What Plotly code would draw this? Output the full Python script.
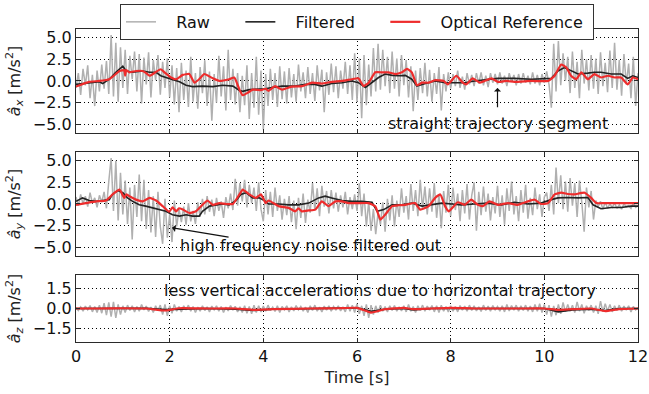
import numpy as np
import plotly.graph_objects as go
from plotly.subplots import make_subplots

# ---------------- data ----------------
raw_dt = 0.05
raw_ax = [
    -0.8, 0.9, -1.6, 1.4, -0.5, 1.8, -2.0, 0.7, -2.9, 1.2,
    -1.2, 1.9, -0.9, 2.3, -1.5, 5.3, -1.8, 4.4, -2.4, 3.9,
    -0.8, 3.6, -1.5, 2.9, 0.2, 3.4, -1.2, 3.1, -2.6, 2.7,
    -0.4, 3.3, -1.9, 2.4, 0.1, 3.0, -1.6, 2.2, -0.8, 2.6,
    -1.9, 1.8, -2.7, 1.5, -3.6, 2.1, -2.2, 1.2, -3.0, 2.8,
    -2.4, 0.9, -3.2, 1.6, -1.4, 2.4, -2.9, 1.1, -4.6, 0.8,
    -2.5, 2.9, -1.8, 1.7, -3.4, 3.6, -2.2, 1.4, -2.7, 0.9,
    -3.6, 0.6, -2.8, 1.8, -4.4, 0.9, -3.1, 2.8, -3.9, 1.2,
    -5.6, 0.8, -2.9, 1.4, -2.2, 0.9, -3.0, 1.7, -2.1, 1.1,
    -2.6, 1.5, -1.9, 0.8, -2.4, 1.9, -1.2, 1.0, -2.0, 1.6,
    -1.5, 0.9, -2.3, 1.8, -1.1, 1.3, -3.6, 1.0, -1.6, 2.0,
    -1.3, 1.7, -2.0, 1.2, -0.9, 2.2, -1.5, 1.8, -2.2, 3.2,
    -2.4, 2.6, -4.3, 3.0, -2.8, 1.9, -1.8, 3.8, -1.2, 4.3,
    -1.0, 3.6, -0.6, 2.8, -1.4, 3.4, -0.9, 2.6, -1.8, 3.0,
    -0.5, 2.4, -1.9, 1.7, -3.5, 1.2, -2.2, 1.5, -1.4, 2.1,
    -1.8, 1.3, -2.4, 0.9, -1.5, 1.6, -3.4, 0.8, -1.2, 1.0,
    -0.9, 0.8, -0.6, 1.2, -0.8, 0.5, -1.0, 0.9, -0.4, 0.7,
    -0.6, 0.9, -0.3, 1.0, -0.5, 0.6, -0.7, 0.9, -0.2, 0.8,
    -0.4, 1.0, -0.3, 0.6, -0.6, 0.9, -0.1, 0.7, -0.5, 0.8,
    -0.3, 0.9, -0.2, 0.6, -0.4, 1.0, -0.3, 0.7, -0.5, 0.8,
    -0.2, 1.1, -0.4, -3.1, 4.3, -1.2, 4.6, -0.5, 3.2, 0.0,
    2.8, -1.4, 3.4, -0.8, 2.2, -2.0, 3.6, -0.3, 2.5, -1.1,
    3.0, -0.9, 2.6, -1.5, 3.3, -0.6, 2.1, -1.3, 3.5, -0.8,
    4.4, -1.0, 2.4, -1.7, 3.1, -0.4, 2.0, -2.0, 2.8, -2.9,
    0.9,
]
raw_ay = [
    0.8, -0.2, 1.1, 0.0, 0.9, -0.3, 1.3, 0.1, 0.7, -0.4,
    1.0, 0.2, 1.4, -0.5, 2.6, 5.3, -0.8, 5.0, -1.9, 3.6,
    -1.2, 2.7, -2.3, 1.9, -4.1, 2.2, -1.5, 3.4, -2.0, 2.8,
    -2.9, 1.6, -3.3, 0.9, -3.8, 1.4, -2.6, -4.6, 0.6, -3.9,
    -1.2, -4.4, 0.4, -2.6, -0.6, -2.1, -0.3, -2.4, 0.1, -2.0,
    -0.8, -2.3, 0.2, -1.5, 0.6, -1.2, 0.9, -0.9, 0.5, -1.4,
    0.7, -0.8, 0.3, -1.6, 0.8, -0.5, 1.2, -0.7, 2.9, -0.2,
    2.4, 0.3, 2.8, -0.4, 2.2, 0.1, 1.9, -0.8, 2.5, -0.6,
    -2.0, 1.6, -1.2, 1.4, -1.5, 1.9, -0.8, 1.0, -1.8, 0.6,
    -1.3, 0.9, -2.1, 0.4, -2.9, 0.7, -1.6, 1.2, -2.2, 0.5,
    -1.0, 2.4, -0.7, 1.8, -1.4, 2.1, -0.3, 1.5, -1.1, 1.6,
    -0.5, 1.3, -0.9, 1.0, -0.4, 1.4, -1.2, 0.8, -0.6, 1.1,
    -0.8, 2.4, -1.4, 1.2, -2.6, 0.3, -3.1, -0.6, -3.5, -1.0,
    -2.4, 0.2, -3.2, 0.6, -1.9, 1.0, -2.6, 0.4, -1.5, 1.8,
    -1.0, 0.9, -1.8, 2.3, -0.8, 1.6, -1.4, 2.8, -0.6, 2.0,
    -1.2, 1.8, -0.9, 2.4, -1.6, 1.1, -2.8, 1.5, -1.0, 2.2,
    -1.4, 1.9, -0.7, 1.2, -2.0, 1.6, -1.1, 2.3, -1.8, 1.0,
    2.5, -3.1, 1.4, -1.3, 2.0, -0.9, 1.2, -1.9, 0.8, -1.1,
    2.1, -1.5, 1.0, -2.4, 1.8, -0.8, 2.6, -1.2, 0.9, -2.0,
    1.6, -1.0, 2.2, -1.7, 0.7, -1.3, 1.9, -0.6, 1.1, -1.5,
    0.8, 1.3, -0.8, 2.2, -1.2, 4.2, 0.1, 3.3, -0.6, 2.6,
    -0.9, 3.0, -0.2, 2.4, -1.5, 2.7, 0.2, -3.2, 1.9, -0.4,
    1.5, -1.8, 0.4, -0.3, 0.3, -0.6, 0.2, -0.5, 0.0, -0.4,
    0.1, -0.5, -0.1, -0.6, 0.0, -0.3, -0.2, -0.5, 0.1, -0.4,
    -0.2,
]
raw_az = [
    0.05, -0.15, 0.12, -0.2, 0.18, -0.1, 0.22, -0.25, 0.15, -0.3,
    0.25, -0.35, 0.4, -0.5, 0.45, -0.6, 0.5, -0.7, 0.3, -0.45,
    0.2, -0.3, 0.25, -0.15, 0.2, -0.25, 0.15, -0.2, 0.3, -0.1,
    0.18, -0.22, 0.1, -0.3, 0.2, -0.15, 0.25, -0.45, 0.3, -0.55,
    0.2, -0.35, 0.3, -0.2, 0.15, -0.25, 0.2, -0.1, 0.25, -0.2,
    0.15, -0.3, 0.1, -0.2, 0.2, -0.15, 0.12, -0.25, 0.18, -0.1,
    0.2, -0.2, 0.15, -0.3, 0.1, -0.18, 0.22, -0.12, 0.16, -0.25,
    0.12, -0.3, 0.2, -0.35, 0.15, -0.4, 0.25, -0.3, 0.2, -0.25,
    0.18, -0.2, 0.25, -0.15, 0.1, -0.22, 0.2, -0.3, 0.15, -0.1,
    0.2, -0.25, 0.12, -0.18, 0.22, -0.1, 0.15, -0.2, 0.1, -0.3,
    0.2, -0.15, 0.25, -0.2, 0.1, -0.25, 0.18, -0.12, 0.2, -0.2,
    0.15, -0.1, 0.2, -0.18, 0.12, -0.25, 0.3, -0.2, 0.25, -0.3,
    0.35, -0.4, 0.2, -0.55, 0.3, -0.7, 0.25, -0.45, 0.2, -0.3,
    0.25, -0.2, 0.15, -0.25, 0.2, -0.15, 0.22, -0.2, 0.12, -0.18,
    0.2, -0.25, 0.3, -0.2, 0.15, -0.3, 0.2, -0.15, 0.25, -0.2,
    0.18, -0.12, 0.22, -0.25, 0.2, -0.3, 0.25, -0.2, 0.15, -0.25,
    0.2, -0.2, 0.15, -0.25, 0.22, -0.12, 0.18, -0.2, 0.25, -0.15,
    0.2, -0.18, 0.12, -0.22, 0.25, -0.15, 0.18, -0.2, 0.22, -0.1,
    0.15, -0.2, 0.2, -0.25, 0.3, -0.18, 0.22, -0.12, 0.25, -0.2,
    0.2, -0.15, 0.25, -0.2, 0.18, -0.25, 0.3, -0.2, 0.35, -0.3,
    0.3, -0.45, 0.25, -0.6, 0.2, -0.5, 0.3, -0.4, 0.45, -0.25,
    0.3, -0.2, 0.25, -0.3, 0.5, -0.2, 0.3, -0.35, 0.2, -0.15,
    0.25, -0.3, 0.2, -0.4, 0.55, -0.25, 0.35, -0.2, 0.3, -0.25,
    0.2, -0.15, 0.25, -0.2, 0.18, -0.12, 0.2, -0.25, 0.15, -0.1,
    0.05,
]

filt_ax_t = [0, 0.28, 0.5, 0.57, 0.71, 0.85, 1.0, 1.07, 1.21, 1.42, 1.57, 1.71, 1.81, 1.92,
             2.06, 2.21, 2.35, 2.49, 2.7, 2.92, 3.13, 3.35, 3.49, 3.56, 3.7, 3.84, 4.05, 4.18,
             4.4, 4.68, 4.9, 5.1, 5.25, 5.46, 5.68, 5.89, 6.03, 6.18, 6.32, 6.46, 6.6, 6.75,
             6.89, 7.03, 7.17, 7.28, 7.46, 7.67, 7.88, 8.03, 8.3, 8.51, 8.72, 9.01, 9.36, 9.72,
             10.15, 10.29, 10.43, 10.57, 10.72, 10.93, 11.07, 11.21, 11.43, 11.64, 11.78, 11.89, 12.0]
filt_ax = [-0.4, -0.2, -0.1, -0.3, 0.2, 1.0, 1.7, 1.15, 1.0, 1.15, 1.0, 1.0, 0.6, 0.4,
           0.2, -0.1, -0.5, -0.65, -0.6, -0.65, -0.5, -0.6, -1.1, -1.2, -1.0, -0.95, -0.9, -0.75,
           -0.6, -0.6, -0.4, -0.4, -0.6, -0.3, -0.2, 0.0, -0.2, -0.75, -0.2, 0.4, 0.8, 0.65,
           0.6, 0.65, 0.2, -0.6, -0.3, 0.0, -0.2, -0.2, -0.2, 0.0, 0.1, 0.3, 0.3, 0.2,
           0.3, 1.15, 1.55, 1.15, 0.8, 0.9, 1.0, 1.0, 0.8, 0.8, 0.3, 0.6, 0.4]

ref_ax_t = [0, 0.28, 0.5, 0.71, 0.93, 1.03, 1.05, 1.07, 1.14, 1.28, 1.42, 1.5, 1.57, 1.71, 1.81,
            1.89, 2.03, 2.14, 2.28, 2.42, 2.53, 2.63, 2.74, 2.92, 3.06, 3.27, 3.38, 3.49, 3.56, 3.67,
            3.77, 3.95, 4.05, 4.11, 4.25, 4.4, 4.61, 4.83, 5.04, 5.25, 5.46, 5.68, 5.89, 6.03, 6.14,
            6.25, 6.39, 6.53, 6.67, 6.82, 6.96, 7.07, 7.17, 7.28, 7.39, 7.53, 7.67, 7.85, 7.94, 8.12,
            8.26, 8.33, 8.47, 8.62, 8.72, 8.87, 9.01, 9.19, 9.36, 9.72, 10.08, 10.22, 10.36, 10.47, 10.57,
            10.68, 10.79, 10.93, 11.07, 11.21, 11.36, 11.5, 11.64, 11.78, 11.89, 12.0]
ref_ax = [-0.65, -0.1, 0.0, 0.2, 1.15, 1.25, 0.6, 1.25, 1.0, 1.15, 1.15, 0.9, 0.6, 1.05, 1.35,
          1.0, 0.4, 0.2, 0.7, 0.8, -0.2, 0.2, 0.8, 0.3, 0.0, 0.2, 0.4, -1.0, -1.65, -1.35,
          -1.0, -1.05, -0.9, -1.15, -0.6, -1.0, -0.65, -0.6, -0.2, -0.3, -0.1, 0.0, 0.2, 0.3, -0.6,
          -0.2, 1.0, 1.0, 1.0, 0.8, 1.0, 1.4, 1.0, -0.5, -0.2, -0.2, 0.1, 0.0, -0.4, 0.6,
          -0.2, -0.4, 0.3, -0.2, 0.0, 0.3, -0.1, 0.0, -0.1, 0.0, 0.0, 0.6, 1.9, 1.55, 0.6,
          0.2, 1.0, 0.2, 0.8, 0.4, 0.6, 0.4, 0.4, -0.4, 0.4, 0.2]

filt_ay_t = [0, 0.14, 0.28, 0.43, 0.57, 0.71, 0.78, 0.89, 1.0, 1.1, 1.21, 1.35, 1.49, 1.64, 1.78,
             1.92, 2.06, 2.21, 2.35, 2.49, 2.63, 2.7, 2.85, 2.99, 3.13, 3.27, 3.42, 3.52, 3.63, 3.77,
             3.91, 4.05, 4.11, 4.33, 4.54, 4.75, 4.97, 5.18, 5.32, 5.46, 5.68, 5.89, 6.1, 6.32, 6.43,
             6.57, 6.75, 6.96, 7.17, 7.39, 7.6, 7.81, 8.03, 8.22, 8.51, 8.79, 9.08, 9.36, 9.65, 9.93,
             10.15, 10.29, 10.5, 10.72, 10.93, 11.04, 11.21, 11.43, 11.64, 11.85, 12.0]
filt_ay = [0.3, 0.7, 0.4, 0.3, 0.4, 0.5, 1.1, 1.55, 1.3, 0.7, 0.3, -0.1, -0.25, -0.45, -0.65,
           -0.85, -1.25, -1.4, -1.25, -1.4, -1.4, -0.85, -0.25, -0.15, 0.0, -0.1, 0.4, 1.1, 1.3, 0.7,
           0.7, 0.3, 0.0, 0.0, -0.1, -0.1, 0.1, 0.7, 0.9, 0.7, 0.4, 0.3, 0.3, 0.2, -0.85,
           -0.65, -0.1, -0.1, 0.1, -0.25, -0.1, 0.1, 0.0, -0.1, 0.0, 0.1, -0.1, 0.2, 0.0, 0.1,
           0.5, 0.7, 0.75, 0.7, 0.75, -0.1, -0.55, -0.4, -0.4, -0.25, -0.25]

ref_ay_t = [0, 0.21, 0.43, 0.64, 0.78, 0.93, 1.03, 1.07, 1.14, 1.28, 1.42, 1.57, 1.71, 1.85, 1.99,
            2.06, 2.14, 2.2, 2.28, 2.42, 2.56, 2.7, 2.81, 2.92, 3.06, 3.2, 3.35, 3.49, 3.56, 3.7,
            3.84, 3.95, 4.05, 4.11, 4.33, 4.54, 4.68, 4.75, 4.82, 4.97, 5.11, 5.25, 5.39, 5.54, 5.68,
            5.82, 6.03, 6.25, 6.39, 6.5, 6.6, 6.75, 6.89, 7.03, 7.24, 7.35, 7.53, 7.67, 7.78, 7.88,
            7.96, 8.15, 8.3, 8.44, 8.58, 8.69, 8.83, 9.01, 9.22, 9.43, 9.65, 9.79, 9.93, 10.08, 10.22,
            10.36, 10.5, 10.64, 10.86, 11.0, 11.11, 11.29, 11.64, 12.0]
ref_ay = [-0.1, 0.1, 0.3, 0.4, 1.1, 1.65, 0.7, 1.1, 0.9, 0.5, 0.3, 0.7, 0.4, -0.25, -0.9,
          -0.4, -0.85, -0.5, -0.65, -1.05, -0.85, -0.1, 0.4, -0.1, 0.1, 0.0, 0.0, 1.1, 1.65, 1.1,
          0.7, 1.1, 0.1, 0.4, -0.25, -0.45, -0.85, -0.5, -0.85, -0.75, -0.65, 0.3, -0.25, 0.3, 0.3,
          0.1, 0.1, 0.1, -0.25, -1.8, -1.25, -0.25, -0.15, -0.1, 0.1, -0.65, -0.25, 0.7, 1.1, -0.25,
          -0.85, 0.2, -0.1, 0.5, -0.1, -0.25, 0.3, -0.1, 0.1, -0.1, 0.3, 0.5, 0.0, 0.1, 1.1,
          1.3, 1.15, 1.1, 1.3, 0.7, 0.1, 0.1, 0.1, 0.1]

az_t = [0, 0.5, 1.0, 1.5, 1.9, 2.2, 2.8, 3.4, 3.8, 4.2, 5.0, 5.6, 6.0, 6.3, 6.6,
        7.0, 7.2, 7.6, 8.0, 8.5, 9.0, 9.5, 10.0, 10.3, 10.6, 11.0, 11.3, 11.6, 12.0]
filt_az = [0.0, 0.02, 0.0, 0.02, -0.08, -0.05, 0.0, -0.05, -0.15, -0.05, 0.0, 0.0, 0.05, -0.2, -0.05,
           0.0, -0.1, 0.0, 0.02, 0.0, 0.0, 0.02, 0.0, -0.25, -0.1, -0.05, -0.15, 0.0, 0.0]
ref_az = [0.0, 0.0, 0.02, 0.0, -0.15, 0.02, 0.0, 0.0, -0.1, -0.05, 0.0, 0.02, 0.05, -0.3, -0.05,
          0.05, -0.05, 0.0, 0.05, 0.0, 0.0, 0.0, 0.0, -0.1, -0.05, 0.0, -0.2, -0.05, 0.0]

x_ticks = [0, 2, 4, 6, 8, 10, 12]
xy_ticks = [5.0, 2.5, 0.0, -2.5, -5.0]
z_ticks = [1.5, 0.0, -1.5]

# ---------------- figure ----------------
raw_t = np.round(np.arange(len(raw_ax)) * raw_dt, 3)

FONT = "DejaVu Sans"
GREY = "#b0b0b0"
BLACK = "#222222"
RED = "#ee2c2c"
FRAME = "#2a2a2a"
FS = 16
NB = "&nbsp;"

fig = make_subplots(rows=3, cols=1, shared_xaxes=True, vertical_spacing=0.05,
                    row_heights=[104, 104, 67])

names = [NB * 3 + "Raw" + NB * 5, NB * 3 + "Filtered" + NB * 5, NB * 3 + "Optical Reference" + NB]
panels = [
    (raw_ax, filt_ax_t, filt_ax, ref_ax_t, ref_ax),
    (raw_ay, filt_ay_t, filt_ay, ref_ay_t, ref_ay),
    (raw_az, az_t, filt_az, az_t, ref_az),
]
for i, (raw, ft, fv, rt, rv) in enumerate(panels):
    row = i + 1
    show = (i == 0)
    fig.add_trace(go.Scatter(x=raw_t, y=raw, mode="lines", name=names[0],
                             line=dict(color=GREY, width=1.5), showlegend=show),
                  row=row, col=1)
    fig.add_trace(go.Scatter(x=ft, y=fv, mode="lines", name=names[1],
                             line=dict(color=BLACK, width=1.6), showlegend=show),
                  row=row, col=1)
    fig.add_trace(go.Scatter(x=rt, y=rv, mode="lines", name=names[2],
                             line=dict(color=RED, width=2.2, shape="spline", smoothing=0.4),
                             showlegend=show),
                  row=row, col=1)

fig.update_layout(
    yaxis=dict(domain=[0.668, 1.0]),
    yaxis2=dict(domain=[0.275, 0.607]),
    yaxis3=dict(domain=[0.0, 0.214]),
)

axis_common = dict(showline=True, linecolor=FRAME, linewidth=1.2, mirror="allticks",
                   ticks="inside", ticklen=4, tickcolor=FRAME, automargin=False,
                   showgrid=True, gridcolor="#000000", gridwidth=1, griddash="1px,3px",
                   zeroline=False, tickfont=dict(family=FONT, size=FS, color="#111"))

for r in (1, 2, 3):
    fig.update_xaxes(range=[0, 12], tickvals=x_ticks, ticktext=[str(v) for v in x_ticks],
                     showticklabels=(r == 3), row=r, col=1, **axis_common)

ytitle = lambda s: "<i>â</i><sub><i>%s</i></sub> [m/s<sup>2</sup>]" % s
tfont = dict(family=FONT, size=FS, color="#222")
for r, rng, tv, s in ((1, [-6, 6], xy_ticks, "x"), (2, [-6, 6], xy_ticks, "y"),
                      (3, [-2.5, 2.5], z_ticks, "z")):
    fig.update_yaxes(range=rng, tickvals=tv,
                     ticktext=[f"{v:.1f}".replace("-", "−") for v in tv],
                     title=dict(text=ytitle(s), standoff=8, font=tfont),
                     row=r, col=1, **axis_common)
fig.update_xaxes(title=dict(text="Time [s]", standoff=6, font=tfont), row=3, col=1)

afont = dict(family=FONT, size=FS, color="#111")
annotations = [
    dict(x=9.0, y=-4.9, xref="x", yref="y", text="straight trajectory segment",
         showarrow=False, font=afont),
    dict(x=9.0, y=-0.8, xref="x", yref="y", ax=9.0, ay=-3.2, axref="x", ayref="y",
         text="", showarrow=True, arrowhead=1, arrowsize=1, arrowwidth=1.2, arrowcolor="#111"),
    dict(x=5.0, y=-4.8, xref="x2", yref="y2", text="high frequency noise filtered out",
         showarrow=False, font=afont),
    dict(x=2.05, y=-2.75, xref="x2", yref="y2", ax=3.29, ay=-3.85, axref="x2", ayref="y2",
         text="", showarrow=True, arrowhead=1, arrowsize=1, arrowwidth=1.2, arrowcolor="#111"),
    dict(x=6.5, y=1.33, xref="x3", yref="y3",
         text="less vertical accelerations due to horizontal trajectory",
         showarrow=False, font=afont),
]

fig.update_layout(
    width=649, height=394,
    margin=dict(l=76, r=11, t=29, b=52, autoexpand=False),
    paper_bgcolor="white", plot_bgcolor="white",
    font=dict(family=FONT, size=FS, color="#111"),
    annotations=annotations,
    legend=dict(orientation="h", x=0.5, xanchor="center", y=0.99, yanchor="top",
                yref="container",
                bgcolor="white", bordercolor="#333", borderwidth=1,
                font=dict(family=FONT, size=FS, color="#111"),
                itemwidth=30),
)

fig.write_html("out.html", config={"displayModeBar": False},
               post_script="document.body.style.margin='0';")
